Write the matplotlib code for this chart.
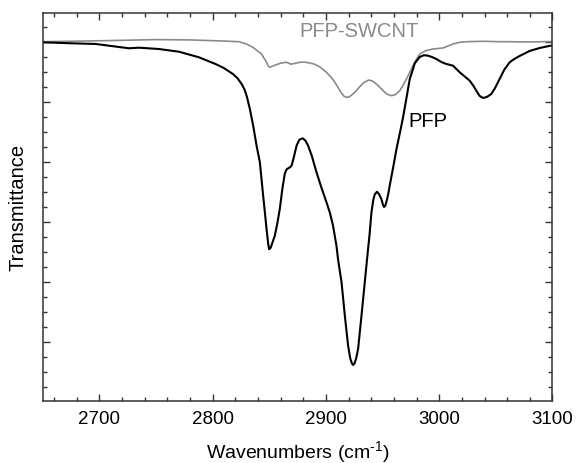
import matplotlib
matplotlib.use("Agg")
import matplotlib.pyplot as plt
from matplotlib.ticker import MultipleLocator, NullFormatter

plt.rcParams['font.family'] = ['Liberation Sans', 'DejaVu Sans']
plt.rcParams['mathtext.fontset'] = 'custom'
plt.rcParams['mathtext.rm'] = 'Liberation Sans'
plt.rcParams['mathtext.it'] = 'Liberation Sans:italic'
plt.rcParams['mathtext.bf'] = 'Liberation Sans:bold'

# PFP (black) spectrum
pfp_x = [2650.0, 2676.2, 2696.8, 2708.6, 2726.2, 2735.0, 2752.6, 2770.3, 2787.9, 2802.6,
         2810.0, 2817.9, 2822.0, 2825.6, 2828.0, 2830.0, 2832.9, 2835.8, 2838.8, 2841.7,
         2844.6, 2846.2, 2847.6, 2849.0, 2849.9, 2851.2, 2852.8, 2854.9, 2857.0, 2859.3,
         2861.5, 2863.7, 2865.2, 2866.7, 2868.2, 2869.7, 2871.5, 2874.1, 2876.5, 2879.4,
         2881.8, 2884.3, 2887.5, 2891.7, 2896.0, 2900.5, 2903.5, 2906.3, 2909.3, 2910.8,
         2913.8, 2916.7, 2919.6, 2921.5, 2923.0, 2924.0, 2925.2, 2926.8, 2928.4, 2931.4,
         2934.3, 2937.2, 2938.5, 2940.2, 2941.8, 2943.1, 2945.1, 2947.0, 2949.0, 2950.3,
         2951.3, 2952.5, 2953.8, 2954.9, 2956.3, 2959.5, 2962.3, 2965.3, 2968.1, 2971.0,
         2974.0, 2976.9, 2978.4, 2982.8, 2986.5, 2990.1, 2993.5, 2997.5, 3002.0, 3006.4,
         3012.2, 3018.1, 3022.5, 3026.9, 3030.0, 3032.8, 3035.5, 3038.6, 3042.0, 3046.0,
         3049.5, 3053.3, 3057.5, 3062.2, 3066.5, 3071.0, 3079.8, 3088.6, 3100.0]
pfp_y = [5.990, 5.973, 5.962, 5.933, 5.890, 5.900, 5.878, 5.833, 5.740, 5.628,
         5.560, 5.462, 5.390, 5.295, 5.210, 5.100, 4.878, 4.600, 4.267, 3.990,
         3.433, 3.140, 2.878, 2.640, 2.540, 2.565, 2.650, 2.767, 2.960, 3.212,
         3.540, 3.800, 3.870, 3.890, 3.905, 3.935, 4.060, 4.267, 4.365, 4.390,
         4.355, 4.267, 4.100, 3.823, 3.570, 3.323, 3.150, 2.933, 2.600, 2.360,
         1.990, 1.433, 0.933, 0.720, 0.635, 0.612, 0.635, 0.730, 0.878, 1.433,
         1.990, 2.545, 2.780, 3.157, 3.360, 3.455, 3.500, 3.455, 3.375, 3.285,
         3.245, 3.270, 3.360, 3.450, 3.600, 3.920, 4.212, 4.480, 4.740, 5.050,
         5.378, 5.545, 5.640, 5.745, 5.775, 5.767, 5.745, 5.712, 5.660, 5.628,
         5.600, 5.490, 5.420, 5.350, 5.270, 5.183, 5.100, 5.062, 5.078, 5.128,
         5.235, 5.378, 5.535, 5.657, 5.715, 5.762, 5.845, 5.895, 5.940]

# PFP-SWCNT (grey) spectrum
swcnt_x = [2650.0, 2705.6, 2749.7, 2779.1, 2808.2, 2823.2, 2830.0, 2835.5, 2840.0, 2843.2,
           2845.5, 2847.6, 2849.2, 2850.5, 2852.5, 2856.4, 2860.5, 2865.3, 2869.0, 2873.0,
           2877.0, 2881.0, 2885.8, 2890.0, 2894.6, 2900.5, 2906.3, 2910.0, 2913.5, 2916.0,
           2918.2, 2920.5, 2923.0, 2925.5, 2929.9, 2933.5, 2937.9, 2941.5, 2946.0, 2950.4,
           2954.0, 2957.8, 2961.5, 2965.2, 2968.0, 2971.1, 2974.0, 2976.9, 2980.0, 2982.8,
           2988.0, 2994.5, 3003.3, 3008.0, 3012.2, 3018.0, 3024.0, 3038.6, 3053.3, 3062.2,
           3079.8, 3100.0]
swcnt_y = [6.000, 6.017, 6.035, 6.030, 6.012, 6.000, 5.960, 5.907, 5.840, 5.795,
           5.720, 5.657, 5.590, 5.573, 5.590, 5.617, 5.645, 5.657, 5.625, 5.640,
           5.657, 5.660, 5.645, 5.625, 5.580, 5.490, 5.370, 5.260, 5.150, 5.090,
           5.073, 5.080, 5.115, 5.157, 5.250, 5.320, 5.362, 5.340, 5.270, 5.183,
           5.125, 5.100, 5.120, 5.183, 5.270, 5.378, 5.490, 5.600, 5.710, 5.795,
           5.850, 5.878, 5.895, 5.930, 5.962, 5.990, 6.000, 6.007, 6.000, 6.000,
           5.995, 6.003]

xlim = (2650, 3100)
ylim = (0.0167, 6.478)

fig = plt.figure(figsize=(5.76, 4.64), dpi=100)
ax = fig.add_axes([0.0741, 0.1343, 0.9592 - 0.0741, 0.9698 - 0.1343])

ax.plot(swcnt_x, swcnt_y, color='#8a8a8a', lw=1.2, solid_joinstyle='round')
ax.plot(pfp_x, pfp_y, color='black', lw=1.5, solid_joinstyle='round')

ax.set_xlim(*xlim)
ax.set_ylim(*ylim)

ax.xaxis.set_major_locator(MultipleLocator(100))
ax.xaxis.set_minor_locator(MultipleLocator(20))
ax.yaxis.set_major_locator(MultipleLocator(1))
ax.yaxis.set_minor_locator(MultipleLocator(0.25))
ax.yaxis.set_major_formatter(NullFormatter())

ax.tick_params(which='both', direction='in', top=True, right=True, color='#333333')
ax.tick_params(which='major', length=5, width=1.0, labelsize=13.5, pad=7)
ax.tick_params(which='minor', length=3, width=1.0)
for s in ax.spines.values():
    s.set_linewidth(1.1)
    s.set_color('#333333')

ax.set_xlabel('Wavenumbers (cm$^{\\text{-1}}$)', fontsize=14, labelpad=8)
ax.set_ylabel('Transmittance', fontsize=14.5, labelpad=4)

ax.text(2929, 6.19, 'PFP-SWCNT', color='#8a8a8a', fontsize=14.5, ha='center', va='center')
ax.text(2990, 4.69, 'PFP', color='black', fontsize=14.5, ha='center', va='center')

fig.savefig('out.png', dpi=100)
